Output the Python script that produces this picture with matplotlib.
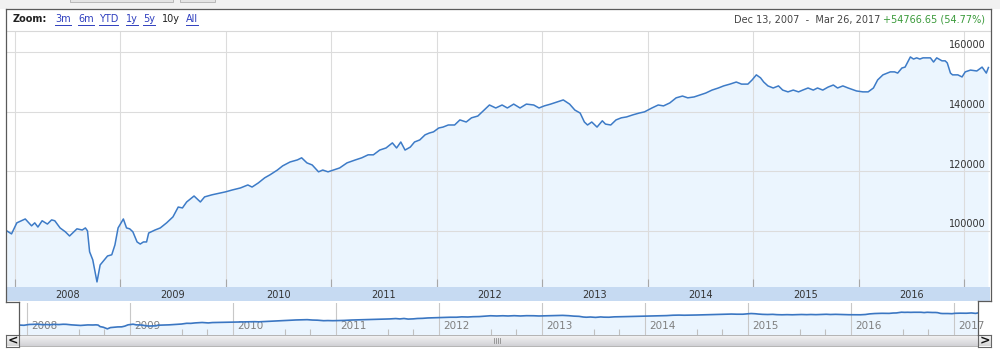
import matplotlib
matplotlib.use('Agg')
import matplotlib.pyplot as plt
import numpy as np
from matplotlib.lines import Line2D
from matplotlib.patches import Rectangle

# portfolio value (decimal year, value)
years = [2007.93, 2007.97, 2008.02, 2008.10, 2008.16, 2008.19, 2008.22, 2008.26, 2008.31, 2008.35,
         2008.38, 2008.43, 2008.48, 2008.52, 2008.59, 2008.64, 2008.67, 2008.69, 2008.71, 2008.74,
         2008.78, 2008.81, 2008.85, 2008.88, 2008.92, 2008.95, 2008.98, 2009.03, 2009.06, 2009.09,
         2009.12, 2009.16, 2009.19, 2009.22, 2009.25, 2009.27, 2009.33, 2009.38, 2009.44, 2009.50,
         2009.55, 2009.59, 2009.63, 2009.70, 2009.76, 2009.80, 2009.87, 2009.95, 2010.00, 2010.06,
         2010.14, 2010.21, 2010.25, 2010.31, 2010.37, 2010.42, 2010.49, 2010.54, 2010.61, 2010.68,
         2010.72, 2010.77, 2010.82, 2010.88, 2010.92, 2010.97, 2011.02, 2011.08, 2011.15, 2011.23,
         2011.29, 2011.35, 2011.40, 2011.46, 2011.52, 2011.58, 2011.62, 2011.66, 2011.70, 2011.75,
         2011.79, 2011.84, 2011.89, 2011.93, 2011.97, 2012.02, 2012.06, 2012.11, 2012.17, 2012.22,
         2012.28, 2012.33, 2012.39, 2012.45, 2012.50, 2012.56, 2012.62, 2012.67, 2012.73, 2012.79,
         2012.85, 2012.92, 2012.97, 2013.02, 2013.08, 2013.14, 2013.20, 2013.26, 2013.31, 2013.36,
         2013.40, 2013.43, 2013.47, 2013.52, 2013.57, 2013.60, 2013.65, 2013.70, 2013.75, 2013.80,
         2013.86, 2013.92, 2013.97, 2014.04, 2014.10, 2014.15, 2014.21, 2014.27, 2014.33, 2014.38,
         2014.44, 2014.50, 2014.55, 2014.61, 2014.67, 2014.72, 2014.78, 2014.84, 2014.89, 2014.95,
         2014.99, 2015.03, 2015.07, 2015.10, 2015.14, 2015.19, 2015.24, 2015.28, 2015.33, 2015.38,
         2015.43, 2015.47, 2015.52, 2015.57, 2015.61, 2015.66, 2015.71, 2015.76, 2015.80, 2015.85,
         2015.90, 2015.98, 2016.04, 2016.09, 2016.14, 2016.18, 2016.23, 2016.30, 2016.34, 2016.37,
         2016.41, 2016.44, 2016.49, 2016.52, 2016.55, 2016.58, 2016.61, 2016.68, 2016.71, 2016.74,
         2016.79, 2016.82, 2016.84, 2016.87, 2016.89, 2016.94, 2016.98, 2017.01, 2017.06, 2017.12,
         2017.17, 2017.21, 2017.23]
values = [99900, 99000, 102700, 104000, 101700, 102700, 101300, 103400, 102300, 103700,
          103400, 101000, 99700, 98300, 100700, 100300, 101000, 100000, 93000, 90300,
          82900, 88600, 90300, 91600, 92000, 95300, 101000, 104000, 101000, 100700,
          99700, 96300, 95600, 96300, 96300, 99300, 100300, 101000, 102700, 104700,
          108000, 107700, 109700, 111700, 109700, 111400, 112100, 112700, 113100, 113700,
          114400, 115400, 114700, 116100, 117800, 118800, 120400, 121800, 123100, 123800,
          124500, 122800, 122100, 119800, 120400, 119800, 120400, 121100, 122800, 123800,
          124500, 125500, 125500, 127100, 127800, 129500, 127800, 129800, 127100, 128100,
          129800, 130500, 132200, 132800, 133200, 134500, 134800, 135500, 135500, 137200,
          136500, 137900, 138500, 140500, 142200, 141200, 142200, 141200, 142500, 141200,
          142500, 142200, 141200, 141900, 142500, 143200, 143900, 142500, 140500, 139500,
          136500, 135500, 136500, 134800, 136900, 135800, 135500, 137200, 137900, 138200,
          138900, 139500, 139900, 141200, 142200, 141900, 142900, 144600, 145200, 144600,
          144900, 145600, 146200, 147200, 147900, 148600, 149200, 149900, 149200, 149200,
          150600, 152300, 151300, 149900, 148600, 147900, 148600, 147200, 146600, 147200,
          146600, 147200, 147900, 147200, 147900, 147200, 148200, 148900, 147900, 148600,
          147900, 146900, 146600, 146600, 147900, 150600, 152300, 153300, 153300, 152900,
          154600, 154900, 158300, 157600, 158000, 157600, 158000, 158000, 156600, 158000,
          157000, 157000, 156300, 152900, 152300, 152300, 151600, 153300, 153900, 153600,
          154900, 152900, 154760]

grid_values = [100000, 120000, 140000, 160000]
year_lines = list(range(2008, 2018))
band_years = list(range(2008, 2017))
zoom_links = ['3m', '6m', 'YTD', '1y', '5y', '10y', 'All']

W, H = 1000, 354
fig = plt.figure(figsize=(10, 3.54), dpi=100)
fig.patch.set_facecolor('white')


def box(x0, y0, x1, y1):
    return [x0 / W, 1 - y1 / H, (x1 - x0) / W, (y1 - y0) / H]


def fline(xs, ys, **kw):
    fig.add_artist(Line2D([x / W for x in xs], [1 - y / H for y in ys],
                          transform=fig.transFigure, **kw))


def bare(a):
    a.set_xticks([])
    a.set_yticks([])
    for s in a.spines.values():
        s.set_visible(False)


# light grey strip above the chart box
fig.add_artist(Rectangle((0, 1 - 8.5 / H), 1, 8.5 / H, transform=fig.transFigure,
                         facecolor='#f1f1f1', edgecolor='none'))
for x0, x1 in [(70, 173), (180, 215)]:
    fig.add_artist(Rectangle((x0 / W, 1 - 2 / H), (x1 - x0) / W, 6 / H, transform=fig.transFigure,
                             facecolor='#e4e4e4', edgecolor='#b8b8b8', lw=0.7))

# main chart
x_lo, x_hi = 2007.927, 2017.245
ax = fig.add_axes(box(7, 31, 990, 287))
ax.fill_between(years, values, 0, color='#ebf5fe', lw=0)
for y in year_lines:
    ax.axvline(y, color='#dcdcdc', lw=0.8, zorder=1)
for v in grid_values:
    ax.axhline(v, color='#dcdcdc', lw=0.8, zorder=1)
    ax.text(0.996, v + 500, str(v), transform=ax.get_yaxis_transform(), ha='right', va='bottom',
            fontsize=7, color='#333333')
ax.plot(years, values, color='#3d7bc7', lw=1.1, zorder=3)
ax.set_xlim(x_lo, x_hi)
ax.set_ylim(81200, 167000)
ax.set_xticks(year_lines)
ax.set_yticks([])
ax.tick_params(axis='x', direction='in', length=6, color='#a8a8a8', width=0.8, labelbottom=False)
for s in ['left', 'right', 'bottom']:
    ax.spines[s].set_visible(False)
ax.spines['top'].set_color('#d8d8d8')
ax.spines['top'].set_linewidth(0.8)

# year band
bax = fig.add_axes(box(7, 287, 990, 301))
bax.set_facecolor('#c6daf2')
bax.set_xlim(x_lo, x_hi)
bax.set_ylim(0, 1)
bare(bax)
for y in band_years:
    bax.text(y + 0.5, 0.45, str(y), ha='center', va='center', fontsize=7, color='#333333')

# navigator
nax = fig.add_axes(box(19, 303, 978, 335))
nax.fill_between(years, values, 0, color='#ebf5fe', lw=0)
for y in year_lines:
    nax.axvline(y, color='#c8c8c8', lw=0.8, zorder=1)
    nax.text(y + 0.04, 0.28, str(y), transform=nax.get_xaxis_transform(), ha='left', va='center',
             fontsize=7.5, color='#7f7f7f', zorder=2)
nax.plot(years, values, color='#3a76c2', lw=1.2, zorder=3)
nax.set_xlim(2007.922, 2017.233)
nax.set_ylim(55000, 200000)
bare(nax)
nax.set_xticks([y + q for y in range(2008, 2017) for q in (0.5, 0.75)], minor=True)
nax.tick_params(axis='x', which='minor', direction='in', length=4, color='#c0c0c0', width=0.8)

# scrollbar and buttons
grad = np.linspace(0, 1, 20).reshape(-1, 1)
sax = fig.add_axes(box(19, 335, 978, 346))
sax.imshow(grad, aspect='auto', cmap=matplotlib.colors.LinearSegmentedColormap.from_list(
    'sb', ['#f7f7f7', '#d2d2d6']), extent=[0, 1, 0, 1])
bare(sax)
for s in sax.spines.values():
    s.set_visible(True)
    s.set_color('#b4b4b4')
    s.set_linewidth(0.7)
for dx in [-3, -1, 1, 3]:
    fline([497 + dx] * 2, [338, 343], color='#8c8c8c', lw=0.6)

for x0, x1, ch in [(6, 19, '<'), (978, 991, '>')]:
    bx = fig.add_axes(box(x0, 335, x1, 346.5))
    bx.imshow(grad, aspect='auto', cmap=matplotlib.colors.LinearSegmentedColormap.from_list(
        'bt', ['#fafafa', '#d6d6d6']), extent=[0, 1, 0, 1])
    bare(bx)
    for s in bx.spines.values():
        s.set_visible(True)
        s.set_color('#666666')
        s.set_linewidth(0.8)
    bx.text(0.5, 0.5, ch, ha='center', va='center', fontsize=9, fontweight='bold', color='#111111')

# frame of the chart box
fc = dict(color='#5a5a5a', lw=0.9)
fline([6, 6], [8.5, 302], **fc)
fline([6, 991], [8.5, 8.5], **fc)
fline([991, 991], [8.5, 301], **fc)
fline([6, 19], [302, 302], **fc)
fline([19, 19], [302, 335], **fc)
fline([978, 991], [301, 301], **fc)
fline([978, 978], [301, 335], **fc)

# toolbar
fig.text(13 / W, 1 - 19.5 / H, 'Zoom:', fontsize=7, fontweight='bold', color='#222222', va='center')
link_x = [55, 78, 99, 126, 143, 162, 186]
link_texts = []
for lx, lab in zip(link_x, zoom_links):
    col = '#222222' if lab == '10y' else '#2f3fbf'
    t = fig.text(lx / W, 1 - 19.5 / H, lab, fontsize=7, color=col, va='center')
    if lab != '10y':
        link_texts.append(t)
fig.text(985 / W, 1 - 19.5 / H, '+54766.65 (54.77%)', fontsize=7, color='#3a9a3a', va='center', ha='right')
fig.text(880 / W, 1 - 19.5 / H, 'Dec 13, 2007  -  Mar 26, 2017', fontsize=7, color='#444444', va='center',
         ha='right')

fig.canvas.draw()
r = fig.canvas.get_renderer()
for t in link_texts:
    bb = t.get_window_extent(r)
    fig.add_artist(Line2D([bb.x0 / W, bb.x1 / W], [(bb.y0 - 0.5) / H] * 2, transform=fig.transFigure,
                          color='#2f3fbf', lw=0.7))

fig.savefig('out.png', dpi=100)
